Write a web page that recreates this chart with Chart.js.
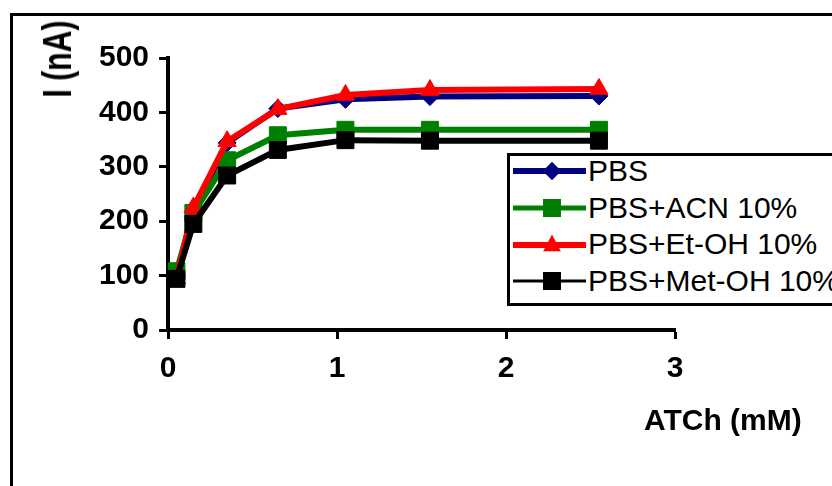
<!DOCTYPE html>
<html>
<head>
<meta charset="utf-8">
<script src="https://cdn.jsdelivr.net/npm/chart.js@4.4.1/dist/chart.umd.min.js"></script>
<style>
  html, body { margin: 0; padding: 0; background: #fff; overflow: hidden; }
  #wrap { position: relative; width: 832px; height: 486px; overflow: hidden; }
  #frame { position: absolute; left: 10px; top: 13px; width: 900px; height: 600px;
           border-left: 3px solid #000; border-top: 3px solid #000; }
  #chart { position: absolute; left: 0; top: 0; }
  .axis-title { position: absolute; font-family: 'Liberation Sans', Arial, sans-serif;
                font-weight: bold; white-space: nowrap; color: #000; }
  #yTitle { left: 57px; top: 58.5px; font-size: 40px; line-height: 40px;
            transform: translate(-50%, -50%) rotate(-90deg) scaleX(0.755); }
  #xTitle { left: 644px; top: 405px; font-size: 30px; line-height: 30px; }
  #legend { position: absolute; left: 507px; top: 153px; width: 400px; height: 147px;
            border: 3px solid #000; background: #fff;
            font: 30px 'Liberation Sans', Arial, sans-serif; color: #000; }
  .item { position: absolute; left: 0; width: 100%; height: 36.7px; line-height: 36.7px; white-space: nowrap; }
  .item .ln { position: absolute; left: 3px; width: 73px; top: 50%; transform: translateY(-50%); }
  .item .mk { position: absolute; left: 42px; top: 50%; }
  .item span { position: absolute; left: 78px; top: 0; }
</style>
</head>
<body>
<div id="wrap">
  <div id="frame"></div>
  <canvas id="chart" width="832" height="486"></canvas>
  <div id="yTitle" class="axis-title">I (nA)</div>
  <div id="xTitle" class="axis-title">ATCh (mM)</div>
  <div id="legend"></div>
</div>
<script>
// ATCh concentration (mM)
const xValues = [0.05, 0.15, 0.35, 0.65, 1.05, 1.55, 2.55];

// current I (nA) per medium
const pbs      = [100, 218, 344, 407, 424, 429, 430];
const pbsAcn   = [108, 215, 312, 358, 368, 368, 368];
const pbsEtOh  = [95, 225, 347, 406, 432, 441, 443];
const pbsMetOh = [94, 195, 284, 331, 349, 348, 348];

const seriesNames = ['PBS', 'PBS+ACN 10%', 'PBS+Et-OH 10%', 'PBS+Met-OH 10%'];

const xTickStep = 1;
const yTickStep = 100;

const toPoints = ys => xValues.map((x, i) => ({ x: x, y: ys[i] }));

const tickFont = { family: "'Liberation Sans', Arial, sans-serif", size: 30, weight: 'bold' };

const axisGrid = {
  drawOnChartArea: false,
  drawTicks: true,
  tickLength: 9,
  tickWidth: 3,
  color: '#000'
};

const chart = new Chart(document.getElementById('chart'), {
  type: 'line',
  data: {
    datasets: [
      {
        label: seriesNames[0],
        data: toPoints(pbs),
        borderColor: '#000080',
        backgroundColor: '#000080',
        borderWidth: 6,
        pointStyle: 'rectRot',
        pointRadius: 9,
        pointBorderWidth: 1,
        legendLineWidth: 6,
        order: 4
      },
      {
        label: seriesNames[1],
        data: toPoints(pbsAcn),
        borderColor: '#008000',
        backgroundColor: '#008000',
        borderWidth: 6,
        pointStyle: 'rect',
        pointRadius: 12,
        pointBorderWidth: 1,
        legendLineWidth: 5,
        order: 3
      },
      {
        label: seriesNames[2],
        data: toPoints(pbsEtOh),
        borderColor: '#FF0000',
        backgroundColor: '#FF0000',
        borderWidth: 6,
        pointStyle: 'triangle',
        pointRadius: 10.5,
        pointBorderWidth: 1,
        legendLineWidth: 6,
        order: 2
      },
      {
        label: seriesNames[3],
        data: toPoints(pbsMetOh),
        borderColor: '#000000',
        backgroundColor: '#000000',
        borderWidth: 6,
        pointStyle: 'rect',
        pointRadius: 12,
        pointBorderWidth: 1,
        legendLineWidth: 3,
        order: 1
      }
    ]
  },
  options: {
    responsive: false,
    animation: false,
    events: [],
    layout: { padding: { top: 58, right: 157, left: 0, bottom: 0 } },
    elements: { line: { tension: 0 } },
    plugins: {
      legend: { display: false },
      tooltip: { enabled: false }
    },
    scales: {
      x: {
        type: 'linear',
        min: 0,
        max: 3,
        ticks: { stepSize: xTickStep, color: '#000', font: tickFont, padding: 12 },
        grid: axisGrid,
        border: { display: true, color: '#000', width: 4 },
        afterFit: scale => { scale.height = 156; }
      },
      y: {
        min: 0,
        max: 500,
        ticks: { stepSize: yTickStep, color: '#000', font: tickFont, padding: 10 },
        grid: axisGrid,
        border: { display: true, color: '#000', width: 4 },
        afterFit: scale => { scale.width = 168; }
      }
    }
  }
});

// legend box, built from the datasets
function legendMarker(ds) {
  const mk = document.createElement('div');
  mk.className = 'mk';
  mk.style.background = ds.backgroundColor;
  if (ds.pointStyle === 'rectRot') {
    mk.style.width = '13px';
    mk.style.height = '13px';
    mk.style.transform = 'translate(-50%, -50%) rotate(45deg)';
  } else if (ds.pointStyle === 'triangle') {
    mk.style.width = '18px';
    mk.style.height = '17px';
    mk.style.clipPath = 'polygon(50% 0, 100% 100%, 0 100%)';
    mk.style.transform = 'translate(-50%, -60%)';
  } else {
    mk.style.width = '18px';
    mk.style.height = '18px';
    mk.style.transform = 'translate(-50%, -50%)';
  }
  return mk;
}

const legendEl = document.getElementById('legend');
chart.data.datasets.forEach((ds, i) => {
  const row = document.createElement('div');
  row.className = 'item';
  row.style.top = (i * 36.7 - 3) + 'px';

  const ln = document.createElement('div');
  ln.className = 'ln';
  ln.style.height = ds.legendLineWidth + 'px';
  ln.style.background = ds.borderColor;
  row.appendChild(ln);

  row.appendChild(legendMarker(ds));

  const txt = document.createElement('span');
  txt.textContent = ds.label;
  row.appendChild(txt);

  legendEl.appendChild(row);
});
</script>
</body>
</html>
